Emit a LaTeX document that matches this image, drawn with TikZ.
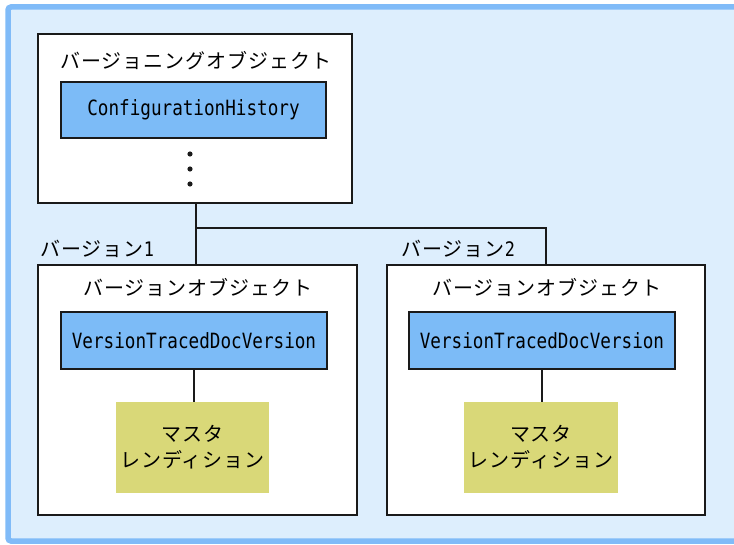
\documentclass[tikz,border=0pt]{standalone}
\usepackage{fontspec}
\newfontfamily\jp[LetterSpace=5]{Noto Sans CJK JP}
\newfontfamily\mono[FakeStretch=0.84]{DejaVu Sans Mono}
\definecolor{panelfill}{HTML}{DDEEFD}
\definecolor{panelline}{HTML}{80BBF8}
\definecolor{classfill}{HTML}{7CBBF7}
\definecolor{rendfill}{HTML}{D9D878}
\definecolor{ink}{HTML}{1A1A1A}
\tikzset{
  objbox/.style={draw=ink, line width=1.8pt, fill=white, inner sep=0pt},
  classbox/.style={draw=ink, line width=1.8pt, fill=classfill, inner sep=0pt,
    font=\mono\fontsize{21}{24}\selectfont},
  rendbox/.style={fill=rendfill, inner sep=0pt, align=center,
    font=\jp\fontsize{20}{26}\selectfont},
  jlabel/.style={inner sep=0pt, font=\jp\fontsize{20}{24}\selectfont},
  link/.style={draw=ink, line width=1.8pt},
}
\begin{document}
\begin{tikzpicture}[x=1pt, y=-1pt]
\useasboundingbox (0,0) rectangle (734,545);
% background panel
\draw[draw=panelline, fill=panelfill, line width=5.5pt, rounded corners=3pt]
  (8,7) rectangle (760,541);

% versioning object
\node[objbox, minimum width=314pt, minimum height=169pt] (top) at (195,118.5) {};
\node[jlabel] (toptitle) at (196,61) {バージョニングオブジェクト};
\node[classbox, minimum width=265pt, minimum height=56pt] (cfg) at (193.5,110) {ConfigurationHistory};
\foreach \yy [count=\i] in {154,169,184}
  \fill[ink] (190,\yy) circle (2.6pt) coordinate (dot\i);

% version boxes
\node[objbox, minimum width=319pt, minimum height=250pt] (v1) at (197.5,390) {};
\node[objbox, minimum width=318pt, minimum height=250pt] (v2) at (546,390) {};

\node[jlabel, anchor=west] (lab1) at (40,249) {バージョン{\mono 1}};
\node[jlabel, anchor=west] (lab2) at (401,249) {バージョン{\mono 2}};

\node[jlabel] (t1) at (198,287) {バージョンオブジェクト};
\node[jlabel] (t2) at (547,287) {バージョンオブジェクト};

\node[classbox, minimum width=266pt, minimum height=57pt] (vt1) at (194,340.5) {VersionTracedDocVersion};
\node[classbox, minimum width=266pt, minimum height=57pt] (vt2) at (542,340.5) {VersionTracedDocVersion};

\node[rendbox, minimum width=153pt, minimum height=91pt] (r1) at (192.5,447.5) {マスタ\\レンディション};
\node[rendbox, minimum width=154pt, minimum height=91pt] (r2) at (541,447.5) {マスタ\\レンディション};

% connectors
\coordinate (junc) at ([xshift=1pt]top.south |- 0,228);
\draw[link] ([xshift=1pt]top.south) -- ([xshift=1pt]top.south |- v1.north);
\draw[link] (junc) -| (v2.north);
\draw[link] (vt1.south) -- (vt1.south |- r1.north);
\draw[link] (vt2.south) -- (vt2.south |- r2.north);
\end{tikzpicture}
\end{document}
